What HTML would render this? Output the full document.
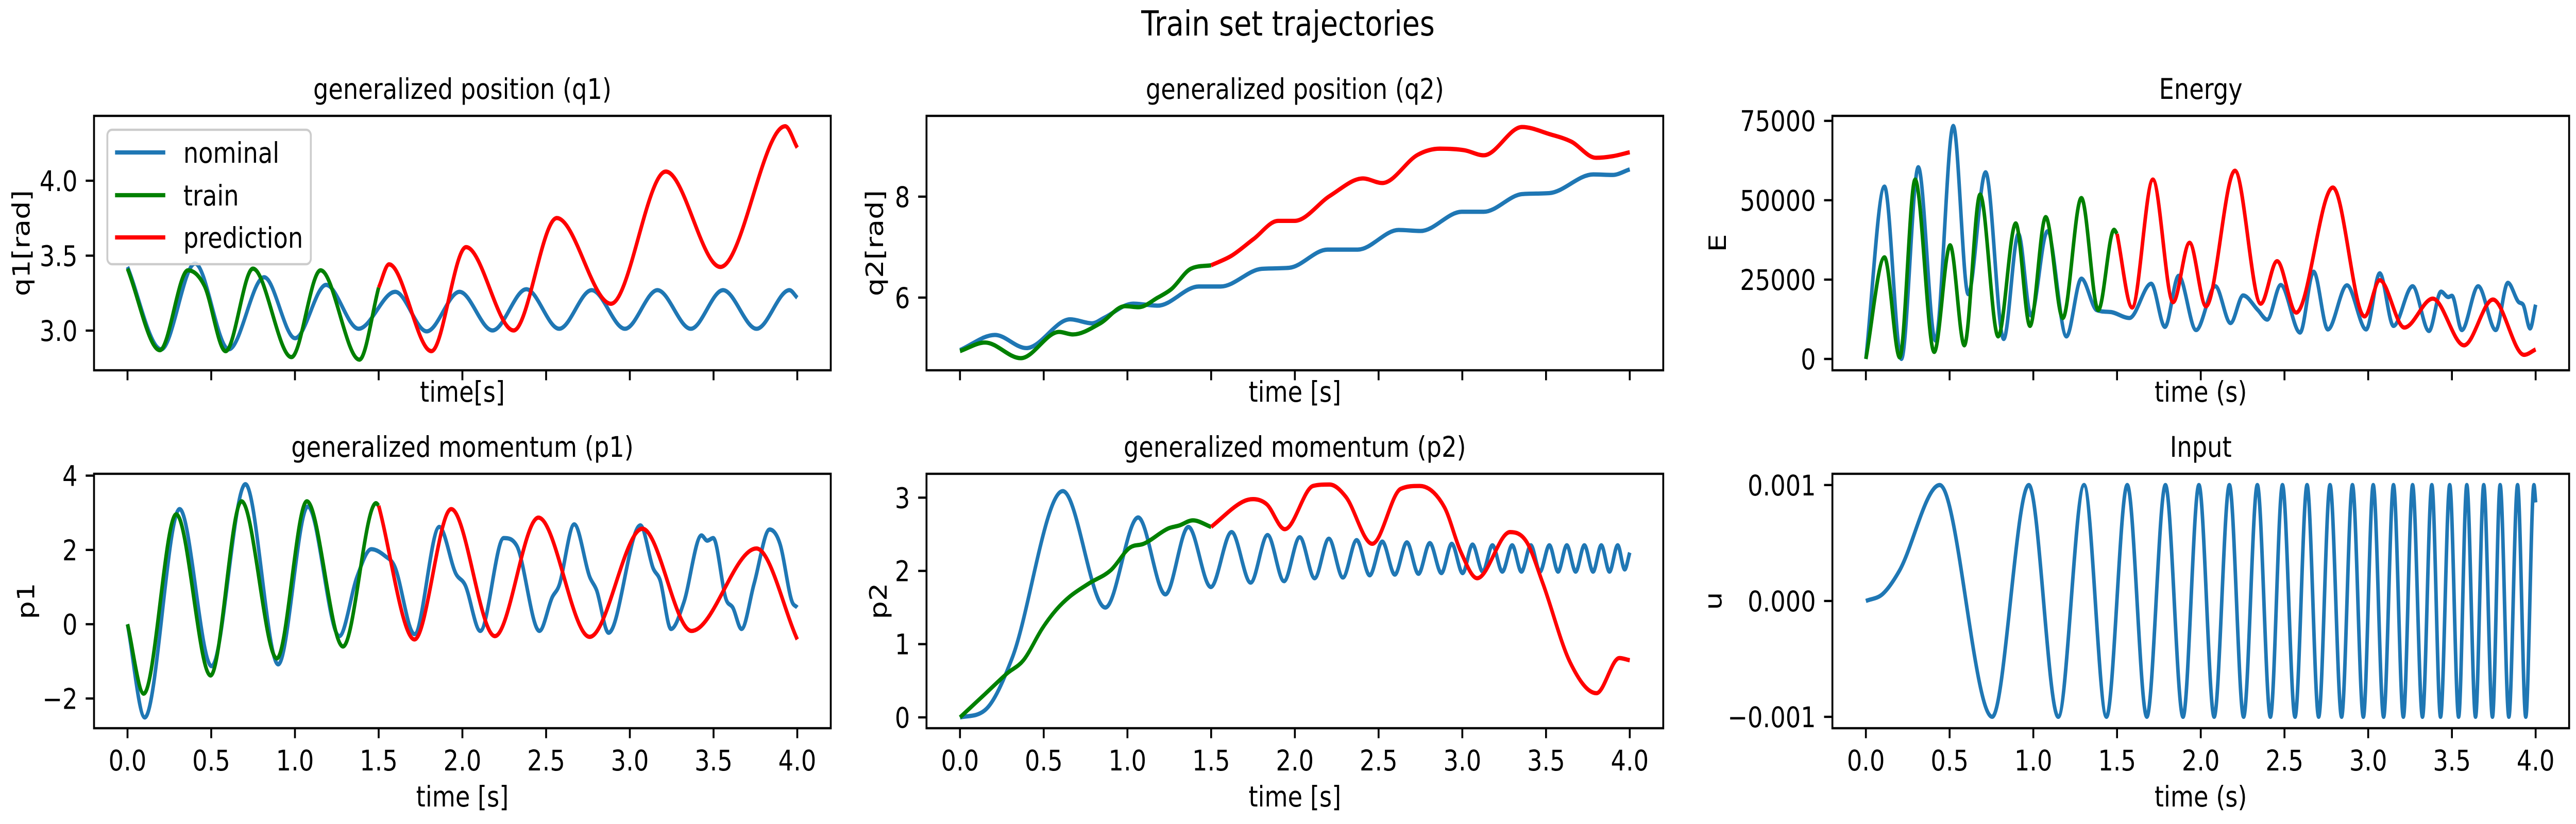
<!DOCTYPE html>
<html>
<head>
<meta charset="utf-8">
<style>
  html, body { margin: 0; padding: 0; background: #ffffff; overflow: hidden; width: 100%; height: 100%; }
  svg { display: block; width: 100vw; height: 100vh; font-family: "DejaVu Sans", "Liberation Sans", sans-serif; }
</style>
</head>
<body>
<svg id="fig" xmlns="http://www.w3.org/2000/svg" viewBox="0 0 6000 1600" preserveAspectRatio="none">
  <rect x="0" y="0" width="6000" height="1600" fill="#ffffff"/>
  <text x="3000" y="69" font-size="66.7" text-anchor="middle" fill="#000">Train set trajectories</text>
</svg>
<script>
// ---------- data ----------
const xTickValues = [0, 0.5, 1, 1.5, 2, 2.5, 3, 3.5, 4];
const xTickLabels = ["0.0", "0.5", "1.0", "1.5", "2.0", "2.5", "3.0", "3.5", "4.0"];

const q1TickValues = [3.0, 3.5, 4.0];
const q1TickLabels = ["3.0", "3.5", "4.0"];
const q1NomT = [0, 0.201, 0.403, 0.605, 0.816, 1.001, 1.186, 1.380, 1.599, 1.787, 1.983, 2.180, 2.382, 2.578, 2.772, 2.971, 3.165, 3.364, 3.557, 3.757, 3.953, 4.0];
const q1NomV = [3.425, 2.875, 3.448, 2.875, 3.356, 2.949, 3.305, 3.012, 3.259, 2.995, 3.259, 3.001, 3.276, 3.012, 3.270, 3.012, 3.270, 3.012, 3.270, 3.012, 3.270, 3.219];
const q1TrainT = [0, 0.193, 0.361, 0.459, 0.586, 0.749, 0.979, 1.153, 1.385, 1.5];
const q1TrainV = [3.413, 2.869, 3.402, 3.299, 2.863, 3.413, 2.823, 3.402, 2.806, 3.287];
const q1PredT = [1.5, 1.562, 1.815, 2.022, 2.306, 2.564, 2.887, 3.215, 3.541, 3.928, 4.0];
const q1PredV = [3.287, 3.442, 2.863, 3.557, 3.001, 3.751, 3.179, 4.061, 3.425, 4.364, 4.221];

const p1TickValues = [-2, 0, 2, 4];
const p1TickLabels = ["\u22122", "0", "2", "4"];
const p1NomT = [0, 0.103, 0.311, 0.502, 0.704, 0.900, 1.077, 1.265, 1.371, 1.456, 1.540, 1.596, 1.714, 1.862, 1.960, 2.017, 2.107, 2.247, 2.325, 2.460, 2.536, 2.578, 2.668, 2.760, 2.802, 2.873, 3.063, 3.139, 3.181, 3.246, 3.322, 3.428, 3.462, 3.498, 3.574, 3.616, 3.667, 3.742, 3.835, 3.897, 3.967, 4.0];
const p1NomV = [0, -2.51, 3.10, -1.13, 3.77, -1.08, 3.17, -0.32, 1.28, 2.02, 1.83, 1.55, -0.27, 2.62, 1.37, 1.05, -0.18, 2.32, 2.11, -0.18, 0.72, 1.05, 2.69, 1.28, 0.91, -0.23, 2.66, 1.51, 1.18, -0.13, 0.58, 2.39, 2.25, 2.32, 0.68, 0.44, -0.13, 1.09, 2.55, 2.16, 0.63, 0.45];
const p1TrainT = [0, 0.097, 0.291, 0.496, 0.681, 0.892, 1.071, 1.287, 1.484, 1.5];
const p1TrainV = [0, -1.87, 2.96, -1.38, 3.31, -0.92, 3.31, -0.60, 3.26, 3.19];
const p1PredT = [1.5, 1.714, 1.933, 2.194, 2.454, 2.760, 3.075, 3.369, 3.756, 4.0];
const p1PredV = [3.19, -0.41, 3.10, -0.32, 2.87, -0.34, 2.57, -0.18, 2.04, -0.41];

const q2TickValues = [6, 8];
const q2TickLabels = ["6", "8"];
const q2NomT = [0, 0.209, 0.396, 0.658, 0.789, 0.861, 1.034, 1.181, 1.426, 1.557, 1.802, 1.966, 2.195, 2.375, 2.620, 2.751, 2.997, 3.128, 3.357, 3.520, 3.782, 3.897, 4.0];
const q2NomV = [4.96, 5.26, 5.00, 5.57, 5.49, 5.60, 5.88, 5.84, 6.22, 6.22, 6.57, 6.59, 6.95, 6.95, 7.34, 7.32, 7.70, 7.70, 8.05, 8.07, 8.44, 8.43, 8.54];
const q2TrainT = [0, 0.150, 0.363, 0.592, 0.674, 0.838, 0.985, 1.067, 1.181, 1.263, 1.378, 1.5];
const q2TrainV = [4.94, 5.11, 4.80, 5.32, 5.27, 5.49, 5.83, 5.81, 6.00, 6.17, 6.57, 6.64];
const q2PredT = [1.5, 1.622, 1.753, 1.900, 1.998, 2.211, 2.407, 2.522, 2.734, 2.865, 3.012, 3.128, 3.357, 3.520, 3.651, 3.798, 3.897, 4.0];
const q2PredV = [6.64, 6.83, 7.16, 7.52, 7.52, 8.02, 8.36, 8.27, 8.83, 8.95, 8.92, 8.82, 9.38, 9.24, 9.09, 8.77, 8.80, 8.88];

const p2TickValues = [0, 1, 2, 3];
const p2TickLabels = ["0", "1", "2", "3"];
const p2NomT = [0, 0.150, 0.313, 0.614, 0.868, 1.064, 1.227, 1.364, 1.498, 1.622, 1.736, 1.837, 1.935, 2.029, 2.118, 2.203, 2.287, 2.369, 2.447, 2.522, 2.597, 2.669, 2.738, 2.806, 2.875, 2.937, 3.002, 3.061, 3.122, 3.180, 3.239, 3.298, 3.353, 3.409, 3.464, 3.520, 3.572, 3.624, 3.677, 3.729, 3.781, 3.830, 3.879, 3.928, 3.970, 4.0];
const p2NomV = [0, 0.10, 0.82, 3.09, 1.50, 2.73, 1.68, 2.60, 1.78, 2.53, 1.84, 2.49, 1.86, 2.46, 1.90, 2.44, 1.91, 2.42, 1.94, 2.40, 1.95, 2.39, 1.96, 2.38, 1.97, 2.37, 1.97, 2.36, 1.99, 2.35, 1.99, 2.35, 1.99, 2.35, 1.99, 2.35, 1.99, 2.35, 1.99, 2.35, 1.99, 2.35, 1.99, 2.35, 2.02, 2.25];
const p2TrainT = [0, 0.150, 0.281, 0.379, 0.493, 0.575, 0.656, 0.771, 0.901, 1.016, 1.097, 1.244, 1.309, 1.391, 1.5];
const p2TrainV = [0, 0.32, 0.60, 0.78, 1.22, 1.47, 1.65, 1.83, 2.01, 2.32, 2.37, 2.58, 2.62, 2.69, 2.60];
const p2PredT = [1.5, 1.685, 1.750, 1.832, 1.940, 2.109, 2.207, 2.305, 2.462, 2.632, 2.746, 2.893, 2.991, 3.089, 3.285, 3.383, 3.481, 3.644, 3.801, 3.938, 4.0];
const p2PredV = [2.60, 2.94, 2.98, 2.91, 2.57, 3.16, 3.18, 3.01, 2.37, 3.12, 3.16, 2.87, 2.26, 1.90, 2.53, 2.40, 1.83, 0.75, 0.33, 0.81, 0.78];

const eTickValues = [0, 25000, 50000, 75000];
const eTickLabels = ["0", "25000", "50000", "75000"];
const eNomT = [0, 0.111, 0.212, 0.313, 0.415, 0.522, 0.611, 0.715, 0.823, 0.911, 0.986, 1.084, 1.198, 1.287, 1.378, 1.460, 1.574, 1.704, 1.786, 1.868, 1.972, 2.087, 2.178, 2.253, 2.341, 2.397, 2.478, 2.593, 2.674, 2.759, 2.873, 2.988, 3.069, 3.151, 3.265, 3.363, 3.435, 3.478, 3.500, 3.559, 3.657, 3.762, 3.834, 3.899, 3.925, 3.967, 4.0];
const eNomV = [0, 54300, 0, 60400, 5800, 73400, 20400, 58800, 6300, 39400, 13700, 40200, 7100, 25300, 15400, 14800, 12900, 23700, 10100, 26200, 9100, 22900, 11300, 20000, 15400, 12400, 23300, 8300, 27500, 9300, 23200, 9300, 27000, 10400, 22900, 8800, 21200, 19500, 19900, 9100, 22900, 9100, 24000, 17900, 17100, 9600, 17100];
const eTrainT = [0, 0.111, 0.202, 0.294, 0.408, 0.503, 0.588, 0.682, 0.790, 0.895, 0.980, 1.074, 1.176, 1.287, 1.388, 1.482, 1.5];
const eTrainV = [0, 32000, 500, 56500, 2200, 35800, 4300, 51800, 7100, 42700, 10400, 44700, 12900, 50700, 15400, 40700, 39400];
const ePredT = [1.5, 1.590, 1.714, 1.835, 1.933, 2.031, 2.204, 2.358, 2.456, 2.570, 2.789, 2.978, 3.069, 3.216, 3.386, 3.572, 3.745, 3.931, 4.0];
const ePredV = [39400, 16200, 56500, 17900, 36600, 16600, 59300, 17400, 30800, 14600, 54000, 13400, 24800, 9900, 19000, 4300, 18700, 1300, 3000];

const uTickValues = [-0.001, 0, 0.001];
const uTickLabels = ["\u22120.001", "0.000", "0.001"];
const uT = [0, 0.1, 0.2, 0.441, 0.754, 0.973, 1.149, 1.303, 1.437, 1.561, 1.678, 1.789, 1.894, 1.989, 2.080, 2.171, 2.256, 2.338, 2.416, 2.488, 2.563, 2.635, 2.704, 2.772, 2.841, 2.906, 2.971, 3.030, 3.092, 3.151, 3.210, 3.265, 3.324, 3.380, 3.432, 3.487, 3.540, 3.589, 3.641, 3.690, 3.742, 3.788, 3.840, 3.892, 3.941, 3.990, 4.0];
const uV = [0, 0.00006, 0.00026, 0.001, -0.001, 0.001, -0.001, 0.001, -0.001, 0.001, -0.001, 0.001, -0.001, 0.001, -0.001, 0.001, -0.001, 0.001, -0.001, 0.001, -0.001, 0.001, -0.001, 0.001, -0.001, 0.001, -0.001, 0.001, -0.001, 0.001, -0.001, 0.001, -0.001, 0.001, -0.001, 0.001, -0.001, 0.001, -0.001, 0.001, -0.001, 0.001, -0.001, 0.001, -0.001, 0.001, 0.00085];

// ---------- layout ----------
const NS = "http://www.w3.org/2000/svg";
const svg = document.getElementById("fig");
const AW = 1716, AH = 494, FS = 55.6, TICK = 19.4, LW = 8.3, SPW = 4.4;
const XMIN = -0.2, XMAX = 4.2;
const BLUE = "#1f77b4", GREEN = "#008000", RED = "#ff0000";

function mk(tag, attrs, parent) {
  const el = document.createElementNS(NS, tag);
  for (const k in attrs) el.setAttribute(k, attrs[k]);
  (parent || svg).appendChild(el);
  return el;
}

function monoPath(ts, vs, sx, sy) {
  const n = ts.length;
  const d = [], m = new Array(n).fill(0);
  for (let i = 0; i < n - 1; i++) d.push((vs[i + 1] - vs[i]) / (ts[i + 1] - ts[i]));
  m[0] = d[0]; m[n - 1] = d[n - 2];
  for (let i = 1; i < n - 1; i++) m[i] = (d[i - 1] * d[i] <= 0) ? 0 : (d[i - 1] + d[i]) / 2;
  for (let i = 0; i < n - 1; i++) {
    if (d[i] === 0) { m[i] = 0; m[i + 1] = 0; continue; }
    const a = m[i] / d[i], b = m[i + 1] / d[i], s = a * a + b * b;
    if (s > 9) { const tau = 3 / Math.sqrt(s); m[i] = tau * a * d[i]; m[i + 1] = tau * b * d[i]; }
  }
  let p = "M" + sx(ts[0]).toFixed(1) + "," + sy(vs[0]).toFixed(1);
  for (let i = 0; i < n - 1; i++) {
    const h = ts[i + 1] - ts[i];
    const c1t = ts[i] + h / 3, c1v = vs[i] + m[i] * h / 3;
    const c2t = ts[i + 1] - h / 3, c2v = vs[i + 1] - m[i + 1] * h / 3;
    p += " C" + sx(c1t).toFixed(1) + "," + sy(c1v).toFixed(1) + " " + sx(c2t).toFixed(1) + "," + sy(c2v).toFixed(1) + " " + sx(ts[i + 1]).toFixed(1) + "," + sy(vs[i + 1]).toFixed(1);
  }
  return p;
}

const panels = [
  { key: "q1", X: 219, Y: 225, ylim: [2.735, 4.433], tv: q1TickValues, tl: q1TickLabels, title: "generalized position (q1)", xlabel: "time[s]", ylabel: "q1[rad]", ylx: 49, showX: false,
    series: [[q1NomT, q1NomV, BLUE, "nominal"], [q1TrainT, q1TrainV, GREEN, "train"], [q1PredT, q1PredV, RED, "prediction"]] },
  { key: "p1", X: 219, Y: 920, ylim: [-2.80, 4.05], tv: p1TickValues, tl: p1TickLabels, title: "generalized momentum (p1)", xlabel: "time [s]", ylabel: "p1", ylx: 60, showX: true,
    series: [[p1NomT, p1NomV, BLUE, "nominal"], [p1TrainT, p1TrainV, GREEN, "train"], [p1PredT, p1PredV, RED, "prediction"]] },
  { key: "q2", X: 2158, Y: 225, ylim: [4.56, 9.60], tv: q2TickValues, tl: q2TickLabels, title: "generalized position (q2)", xlabel: "time [s]", ylabel: "q2[rad]", ylx: 2037, showX: false,
    series: [[q2NomT, q2NomV, BLUE, "nominal"], [q2TrainT, q2TrainV, GREEN, "train"], [q2PredT, q2PredV, RED, "prediction"]] },
  { key: "p2", X: 2158, Y: 920, ylim: [-0.148, 3.326], tv: p2TickValues, tl: p2TickLabels, title: "generalized momentum (p2)", xlabel: "time [s]", ylabel: "p2", ylx: 2045, showX: true,
    series: [[p2NomT, p2NomV, BLUE, "nominal"], [p2TrainT, p2TrainV, GREEN, "train"], [p2PredT, p2PredV, RED, "prediction"]] },
  { key: "energy", X: 4268, Y: 225, ylim: [-3570, 76570], tv: eTickValues, tl: eTickLabels, title: "Energy", xlabel: "time (s)", ylabel: "E", ylx: 4000, showX: false,
    series: [[eNomT, eNomV, BLUE, "nominal"], [eTrainT, eTrainV, GREEN, "train"], [ePredT, ePredV, RED, "prediction"]] },
  { key: "input", X: 4268, Y: 920, ylim: [-0.001098, 0.001097], tv: uTickValues, tl: uTickLabels, title: "Input", xlabel: "time (s)", ylabel: "u", ylx: 3990, showX: true,
    series: [[uT, uV, BLUE, "input"]] }
];

panels.forEach(function (P) {
  const sx = function (t) { return P.X + (t - XMIN) / (XMAX - XMIN) * AW; };
  const sy = function (v) { return P.Y + (P.ylim[1] - v) / (P.ylim[1] - P.ylim[0]) * AH; };
  const g = mk("g", {});
  
  

  const clip = mk("clipPath", { id: "clip-" + P.key }, g);
  mk("rect", { x: P.X, y: P.Y, width: AW, height: AH }, clip);

  const title = mk("text", { x: P.X + AW / 2, y: P.Y - 33, "font-size": FS, "text-anchor": "middle", fill: "#000" }, g);
  title.textContent = P.title;
  
  

  P.series.forEach(function (s) {
    const path = mk("path", { d: monoPath(s[0], s[1], sx, sy), fill: "none", stroke: s[2], "stroke-width": LW, "stroke-linejoin": "round", "stroke-linecap": "butt", "clip-path": "url(#clip-" + P.key + ")" }, g);
    
    
  });

  const frame = mk("rect", { x: P.X, y: P.Y, width: AW, height: AH, fill: "none", stroke: "#000", "stroke-width": SPW }, g);
  
  

  xTickValues.forEach(function (t, i) {
    const x = sx(t);
    const tk = mk("line", { x1: x, y1: P.Y + AH, x2: x, y2: P.Y + AH + TICK, stroke: "#000", "stroke-width": SPW }, g);
    
    
    if (P.showX) {
      const lb = mk("text", { x: x, y: P.Y + AH + 82, "font-size": FS, "text-anchor": "middle", fill: "#000" }, g);
      lb.textContent = xTickLabels[i];
      
      
    }
  });

  P.tv.forEach(function (v, i) {
    const y = sy(v);
    const tk = mk("line", { x1: P.X, y1: y, x2: P.X - TICK, y2: y, stroke: "#000", "stroke-width": SPW }, g);
    
    
    const lb = mk("text", { x: P.X - TICK - 19, y: y + 20, "font-size": FS, "text-anchor": "end", fill: "#000" }, g);
    lb.textContent = P.tl[i];
    
    
  });

  const xl = mk("text", { x: P.X + AW / 2, y: P.showX ? 1566 : 780, "font-size": FS, "text-anchor": "middle", fill: "#000" }, g);
  xl.textContent = P.xlabel;
  
  
  const cy = P.Y + AH / 2;
  const yl = mk("text", { x: 0, y: 0, "font-size": FS, "text-anchor": "middle", fill: "#000", transform: "translate(" + (P.ylx + 20) + "," + cy + ") rotate(-90)" }, g);
  yl.textContent = P.ylabel;
  
  
});

const legend = mk("g", {});


const lbox = mk("rect", { x: 250, y: 252, width: 474, height: 261, rx: 11, ry: 11, fill: "#ffffff", "fill-opacity": 0.8, stroke: "#cccccc", "stroke-width": 4.4 }, legend);


const legendNames = ["nominal", "train", "prediction"];
const legendColors = [BLUE, GREEN, RED];
const legendRowsY = [296, 379, 461];
legendNames.forEach(function (name, i) {
  const ln = mk("line", { x1: 268, y1: legendRowsY[i], x2: 385, y2: legendRowsY[i], stroke: legendColors[i], "stroke-width": LW }, legend);
  
  
  const tx = mk("text", { x: 427, y: legendRowsY[i] + 20, "font-size": FS, fill: "#000" }, legend);
  tx.textContent = name;
  
  
});
</script>
</body>
</html>
